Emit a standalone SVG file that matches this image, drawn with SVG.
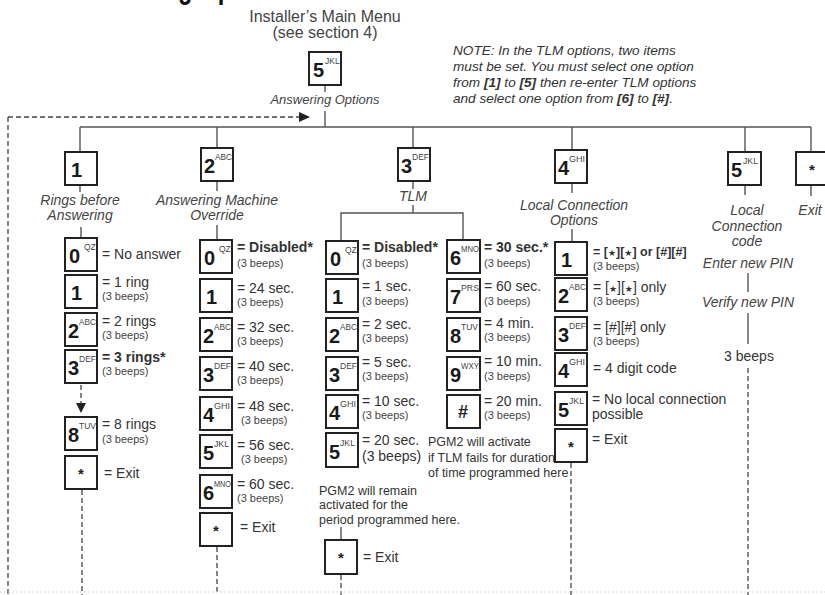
<svg xmlns="http://www.w3.org/2000/svg" width="825" height="595" viewBox="0 0 825 595">
<style>
.k{fill:#fff;stroke:#222;stroke-width:2}
.kd{font:bold 20px "Liberation Sans",Arial,sans-serif;fill:#1a1a1a}
.ks{font:8.5px "Liberation Sans",Arial,sans-serif;fill:#444}
.kx{font:bold 15px "Liberation Sans",Arial,sans-serif;fill:#222;text-anchor:middle}
.t{font:14px "Liberation Sans",Arial,sans-serif;fill:#333}
.tb{font-weight:bold}
.b{font:11px "Liberation Sans",Arial,sans-serif;fill:#444}
.i{font:italic 14px "Liberation Sans",Arial,sans-serif;fill:#444;text-anchor:middle}
.h{font:16px "Liberation Sans",Arial,sans-serif;fill:#444;text-anchor:middle}
.n{font:italic 13.6px "Liberation Sans",Arial,sans-serif;fill:#333}
.p{font:12.5px "Liberation Sans",Arial,sans-serif;fill:#333}
.st{font:9px "DejaVu Sans",sans-serif}
.ln{stroke:#555;stroke-width:1.4;fill:none}
.dl{stroke:#444;stroke-width:1.3;stroke-dasharray:5 3;fill:none}
.ah{fill:#222}
</style>

<text x="71" y="-2" font-family="Liberation Sans, Arial, sans-serif" font-weight="bold" font-size="34" fill="#111" textLength="218" lengthAdjust="spacingAndGlyphs">Answering Options</text>

<g id="connectors">
  <line class="ln" x1="325" y1="85" x2="325" y2="92"/>
  <line class="ln" x1="325" y1="111" x2="325" y2="127"/>
  <line class="ln" x1="80" y1="127" x2="811" y2="127"/>
  <line class="ln" x1="80" y1="127" x2="80" y2="152"/>
  <line class="ln" x1="217" y1="127" x2="217" y2="148"/>
  <line class="ln" x1="413" y1="127" x2="413" y2="148"/>
  <line class="ln" x1="572" y1="127" x2="572" y2="150"/>
  <line class="ln" x1="745" y1="127" x2="745" y2="152"/>
  <line class="ln" x1="811" y1="127" x2="811" y2="152"/>
  <line class="ln" x1="80" y1="185" x2="80" y2="192"/>
  <line class="ln" x1="81" y1="227" x2="81" y2="238"/>
  <line class="ln" x1="217" y1="181" x2="217" y2="191"/>
  <line class="ln" x1="217" y1="225" x2="217" y2="240"/>
  <line class="ln" x1="413" y1="181" x2="413" y2="189"/>
  <line class="ln" x1="413" y1="205" x2="413" y2="213"/>
  <polyline class="ln" points="341,241 341,213 463,213 463,240"/>
  <line class="ln" x1="572" y1="183" x2="572" y2="193"/>
  <line class="ln" x1="572" y1="229" x2="572" y2="242"/>
  <line class="ln" x1="745" y1="185" x2="745" y2="195"/>
  <line class="ln" x1="748" y1="273" x2="748" y2="292"/>
  <line class="ln" x1="748" y1="313" x2="748" y2="344"/>
  <line class="ln" x1="811" y1="185" x2="811" y2="196"/>
  <line class="ln" x1="341" y1="527" x2="341" y2="540"/>
  <line class="dl" x1="8" y1="117" x2="300" y2="117"/>
  <polygon class="ah" points="299,112 310,117 299,122"/>
  <line class="dl" x1="8" y1="117" x2="8" y2="595"/>
  <line class="dl" x1="81" y1="385" x2="81" y2="404"/>
  <polygon class="ah" points="76,403 86,403 81,413"/>
  <line class="dl" x1="82" y1="490" x2="82" y2="595"/>
  <line class="dl" x1="217" y1="547" x2="217" y2="595"/>
  <line class="dl" x1="341" y1="575" x2="341" y2="595"/>
  <line class="dl" x1="571" y1="463" x2="571" y2="595"/>
  <line class="dl" x1="748" y1="368" x2="748" y2="595"/>
  <line x1="0" y1="592" x2="825" y2="592" stroke="#d6d6d6" stroke-width="1" stroke-dasharray="2 2"/>
</g>

<g id="main-menu">
  <text class="h" x="325" y="22">Installer’s Main Menu</text>
  <text class="h" x="325" y="38">(see section 4)</text>
  <rect class="k" x="309" y="52" width="32" height="33"/>
  <text class="kd" x="313" y="77">5</text><text class="ks" x="325" y="64">JKL</text>
  <text class="i" x="325" y="104" style="font-size:13px">Answering Options</text>
</g>

<g id="note">
  <text class="n" x="453" y="55">NOTE: In the TLM options, two items</text>
  <text class="n" x="453" y="71">must be set. You must select one option</text>
  <text class="n" x="453" y="87">from <tspan class="tb">[1]</tspan> to <tspan class="tb">[5]</tspan> then re-enter TLM options</text>
  <text class="n" x="453" y="103">and select one option from <tspan class="tb">[6]</tspan> to <tspan class="tb">[#]</tspan>.</text>
</g>

<!-- Column 1 -->
<g id="rings">
  <rect class="k" x="65" y="152" width="32" height="33"/>
  <text class="kd" x="71" y="177">1</text>
  <text class="i" x="80" y="205">Rings before</text>
  <text class="i" x="80" y="220">Answering</text>
</g>
<g id="r0"><rect class="k" x="65" y="238" width="32" height="33"/><text class="kd" x="69" y="263">0</text><text class="ks" x="84" y="250">QZ</text><text class="t" x="102" y="259">= No answer</text></g>
<g id="r1"><rect class="k" x="65" y="275" width="32" height="33"/><text class="kd" x="71" y="300">1</text><text class="t" x="102" y="287">= 1 ring</text><text class="b" x="102" y="300">(3 beeps)</text></g>
<g id="r2"><rect class="k" x="65" y="313" width="32" height="33"/><text class="kd" x="68" y="338">2</text><text class="ks" x="79" y="325" textLength="17" lengthAdjust="spacingAndGlyphs">ABC</text><text class="t" x="102" y="326">= 2 rings</text><text class="b" x="102" y="339">(3 beeps)</text></g>
<g id="r3"><rect class="k" x="65" y="350" width="32" height="33"/><text class="kd" x="68" y="375">3</text><text class="ks" x="79" y="362" textLength="17" lengthAdjust="spacingAndGlyphs">DEF</text><text class="t tb" x="102" y="362">= 3 rings*</text><text class="b" x="102" y="375">(3 beeps)</text></g>
<g id="r8"><rect class="k" x="65" y="417" width="32" height="33"/><text class="kd" x="68" y="442">8</text><text class="ks" x="79" y="429" textLength="17" lengthAdjust="spacingAndGlyphs">TUV</text><text class="t" x="102" y="429">= 8 rings</text><text class="b" x="102" y="443">(3 beeps)</text></g>
<g id="rx"><rect class="k" x="65" y="456" width="32" height="33"/><text class="kx" x="81" y="479">*</text><text class="t" x="104" y="478">= Exit</text></g>

<!-- Column 2 -->
<g id="override">
  <rect class="k" x="201" y="148" width="32" height="33"/>
  <text class="kd" x="204" y="173">2</text><text class="ks" x="215" y="160" textLength="17" lengthAdjust="spacingAndGlyphs">ABC</text>
  <text class="i" x="217" y="205">Answering Machine</text>
  <text class="i" x="217" y="220">Override</text>
</g>
<g id="o0"><rect class="k" x="200" y="240" width="32" height="33"/><text class="kd" x="204" y="265">0</text><text class="ks" x="219" y="252">QZ</text><text class="t tb" x="237" y="252">= Disabled*</text><text class="b" x="237" y="267">(3 beeps)</text></g>
<g id="o1"><rect class="k" x="200" y="279" width="32" height="33"/><text class="kd" x="206" y="304">1</text><text class="t" x="237" y="293">= 24 sec.</text><text class="b" x="237" y="306">(3 beeps)</text></g>
<g id="o2"><rect class="k" x="200" y="318" width="32" height="33"/><text class="kd" x="203" y="343">2</text><text class="ks" x="214" y="330" textLength="17" lengthAdjust="spacingAndGlyphs">ABC</text><text class="t" x="237" y="332">= 32 sec.</text><text class="b" x="237" y="345">(3 beeps)</text></g>
<g id="o3"><rect class="k" x="200" y="357" width="32" height="33"/><text class="kd" x="203" y="382">3</text><text class="ks" x="214" y="369" textLength="17" lengthAdjust="spacingAndGlyphs">DEF</text><text class="t" x="237" y="371">= 40 sec.</text><text class="b" x="237" y="384">(3 beeps)</text></g>
<g id="o4"><rect class="k" x="200" y="397" width="32" height="33"/><text class="kd" x="203" y="422">4</text><text class="ks" x="214" y="409" textLength="16" lengthAdjust="spacingAndGlyphs">GHI</text><text class="t" x="237" y="411">= 48 sec.</text><text class="b" x="241" y="424">(3 beeps)</text></g>
<g id="o5"><rect class="k" x="200" y="435" width="32" height="33"/><text class="kd" x="203" y="460">5</text><text class="ks" x="214" y="447" textLength="15" lengthAdjust="spacingAndGlyphs">JKL</text><text class="t" x="237" y="450">= 56 sec.</text><text class="b" x="241" y="463">(3 beeps)</text></g>
<g id="o6"><rect class="k" x="200" y="475" width="32" height="33"/><text class="kd" x="203" y="500">6</text><text class="ks" x="214" y="487" textLength="17" lengthAdjust="spacingAndGlyphs">MNO</text><text class="t" x="237" y="489">= 60 sec.</text><text class="b" x="237" y="502">(3 beeps)</text></g>
<g id="ox"><rect class="k" x="200" y="513" width="32" height="33"/><text class="kx" x="216" y="536">*</text><text class="t" x="240" y="532">= Exit</text></g>

<!-- Column 3 -->
<g id="tlm">
  <rect class="k" x="398" y="148" width="32" height="33"/>
  <text class="kd" x="401" y="173">3</text><text class="ks" x="412" y="160" textLength="17" lengthAdjust="spacingAndGlyphs">DEF</text>
  <text class="i" x="413" y="201">TLM</text>
</g>
<g id="t0"><rect class="k" x="326" y="241" width="32" height="33"/><text class="kd" x="330" y="266">0</text><text class="ks" x="345" y="253">QZ</text><text class="t tb" x="362" y="252">= Disabled*</text><text class="b" x="362" y="267">(3 beeps)</text></g>
<g id="t1"><rect class="k" x="326" y="279" width="32" height="33"/><text class="kd" x="332" y="304">1</text><text class="t" x="362" y="291">= 1 sec.</text><text class="b" x="362" y="305">(3 beeps)</text></g>
<g id="t2"><rect class="k" x="326" y="318" width="32" height="33"/><text class="kd" x="329" y="343">2</text><text class="ks" x="340" y="330" textLength="17" lengthAdjust="spacingAndGlyphs">ABC</text><text class="t" x="362" y="329">= 2 sec.</text><text class="b" x="362" y="342">(3 beeps)</text></g>
<g id="t3"><rect class="k" x="326" y="357" width="32" height="33"/><text class="kd" x="329" y="382">3</text><text class="ks" x="340" y="369" textLength="17" lengthAdjust="spacingAndGlyphs">DEF</text><text class="t" x="362" y="367">= 5 sec.</text><text class="b" x="362" y="380">(3 beeps)</text></g>
<g id="t4"><rect class="k" x="326" y="395" width="32" height="33"/><text class="kd" x="329" y="420">4</text><text class="ks" x="340" y="407" textLength="16" lengthAdjust="spacingAndGlyphs">GHI</text><text class="t" x="362" y="406">= 10 sec.</text><text class="b" x="362" y="419">(3 beeps)</text></g>
<g id="t5"><rect class="k" x="326" y="433" width="32" height="34"/><text class="kd" x="329" y="459">5</text><text class="ks" x="340" y="446" textLength="15" lengthAdjust="spacingAndGlyphs">JKL</text><text class="t" x="362" y="445">= 20 sec.</text><text class="t" x="362" y="461">(3 beeps)</text></g>
<g id="pgm-remain">
  <text class="p" x="319" y="495">PGM2 will remain</text>
  <text class="p" x="319" y="509">activated for the</text>
  <text class="p" x="319" y="524">period programmed here.</text>
</g>
<g id="tx"><rect class="k" x="325" y="540" width="32" height="34"/><text class="kx" x="341" y="563">*</text><text class="t" x="363" y="562">= Exit</text></g>
<g id="t6"><rect class="k" x="447" y="240" width="33" height="33"/><text class="kd" x="450" y="265">6</text><text class="ks" x="461" y="252" textLength="18" lengthAdjust="spacingAndGlyphs">MNO</text><text class="t tb" x="484" y="252">= 30 sec.*</text><text class="b" x="484" y="267">(3 beeps)</text></g>
<g id="t7"><rect class="k" x="447" y="279" width="33" height="33"/><text class="kd" x="450" y="304">7</text><text class="ks" x="461" y="291" textLength="18" lengthAdjust="spacingAndGlyphs">PRS</text><text class="t" x="484" y="291">= 60 sec.</text><text class="b" x="484" y="305">(3 beeps)</text></g>
<g id="t8"><rect class="k" x="447" y="318" width="33" height="33"/><text class="kd" x="450" y="343">8</text><text class="ks" x="461" y="330" textLength="17" lengthAdjust="spacingAndGlyphs">TUV</text><text class="t" x="484" y="328">= 4 min.</text><text class="b" x="484" y="341">(3 beeps)</text></g>
<g id="t9"><rect class="k" x="447" y="357" width="33" height="33"/><text class="kd" x="450" y="382">9</text><text class="ks" x="461" y="369" textLength="18" lengthAdjust="spacingAndGlyphs">WXY</text><text class="t" x="484" y="366">= 10 min.</text><text class="b" x="484" y="380">(3 beeps)</text></g>
<g id="thash"><rect class="k" x="447" y="395" width="33" height="33"/><text class="kx" x="463" y="418" style="font-size:18px">#</text><text class="t" x="484" y="406">= 20 min.</text><text class="b" x="484" y="419">(3 beeps)</text></g>
<g id="pgm-activate">
  <text class="p" x="428" y="446">PGM2 will activate</text>
  <text class="p" x="428" y="462">if TLM fails for duration</text>
  <text class="p" x="428" y="477">of time programmed here</text>
</g>

<!-- Column 4 -->
<g id="local-options">
  <rect class="k" x="555" y="150" width="32" height="33"/>
  <text class="kd" x="558" y="175">4</text><text class="ks" x="569" y="162" textLength="16" lengthAdjust="spacingAndGlyphs">GHI</text>
  <text class="i" x="574" y="210">Local Connection</text>
  <text class="i" x="574" y="225">Options</text>
</g>
<g id="l1"><rect class="k" x="555" y="242" width="32" height="33"/><text class="kd" x="561" y="267">1</text><text class="t tb" x="593" y="256" style="font-size:12.5px">= [<tspan class="st">★</tspan>][<tspan class="st">★</tspan>] or [#][#]</text><text class="b tb" x="593" y="270">(3 beeps)</text></g>
<g id="l2"><rect class="k" x="555" y="278" width="32" height="33"/><text class="kd" x="558" y="303">2</text><text class="ks" x="569" y="290" textLength="17" lengthAdjust="spacingAndGlyphs">ABC</text><text class="t" x="593" y="292">= [<tspan class="st">★</tspan>][<tspan class="st">★</tspan>] only</text><text class="b" x="593" y="305">(3 beeps)</text></g>
<g id="l3"><rect class="k" x="555" y="317" width="32" height="33"/><text class="kd" x="558" y="342">3</text><text class="ks" x="569" y="329" textLength="17" lengthAdjust="spacingAndGlyphs">DEF</text><text class="t" x="593" y="332">= [#][#] only</text><text class="b" x="593" y="345">(3 beeps)</text></g>
<g id="l4"><rect class="k" x="555" y="353" width="32" height="33"/><text class="kd" x="558" y="378">4</text><text class="ks" x="569" y="365" textLength="16" lengthAdjust="spacingAndGlyphs">GHI</text><text class="t" x="593" y="373">= 4 digit code</text></g>
<g id="l5"><rect class="k" x="555" y="392" width="32" height="33"/><text class="kd" x="558" y="417">5</text><text class="ks" x="569" y="404" textLength="15" lengthAdjust="spacingAndGlyphs">JKL</text><text class="t" x="592" y="404">= No local connection</text><text class="t" x="592" y="419">possible</text></g>
<g id="lx"><rect class="k" x="555" y="429" width="32" height="33"/><text class="kx" x="571" y="452">*</text><text class="t" x="592" y="444">= Exit</text></g>

<!-- Column 5 -->
<g id="local-code">
  <rect class="k" x="728" y="152" width="33" height="33"/>
  <text class="kd" x="731" y="177">5</text><text class="ks" x="743" y="164" textLength="15" lengthAdjust="spacingAndGlyphs">JKL</text>
  <text class="i" x="747" y="215">Local</text>
  <text class="i" x="747" y="231">Connection</text>
  <text class="i" x="747" y="246">code</text>
</g>
<g id="enter-pin"><text class="i" x="748" y="268">Enter new PIN</text></g>
<g id="verify-pin"><text class="i" x="748" y="307">Verify new PIN</text></g>
<g id="beeps"><text class="t" x="749" y="361" text-anchor="middle">3 beeps</text></g>

<!-- Column 6 -->
<g id="exit">
  <rect class="k" x="796" y="152" width="33" height="33"/>
  <text class="kx" x="812" y="175">*</text>
  <text class="i" x="810" y="215">Exit</text>
</g>
</svg>
